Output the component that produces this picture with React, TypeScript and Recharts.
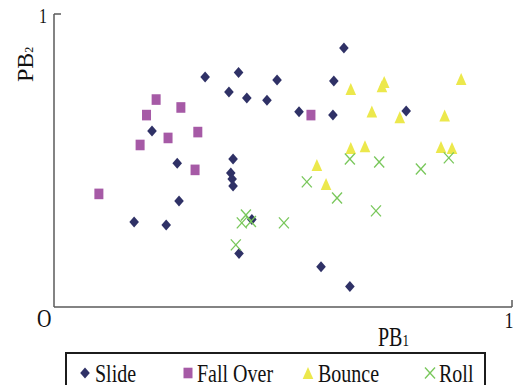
import React from 'react';
import { ScatterChart, Scatter, XAxis, YAxis, Legend } from 'recharts';

const slidePoints = [
  { x: 0.330, y: 0.785 }, { x: 0.403, y: 0.800 }, { x: 0.382, y: 0.734 }, { x: 0.421, y: 0.713 },
  { x: 0.465, y: 0.706 }, { x: 0.487, y: 0.775 }, { x: 0.633, y: 0.884 }, { x: 0.611, y: 0.771 },
  { x: 0.535, y: 0.666 }, { x: 0.609, y: 0.655 }, { x: 0.769, y: 0.669 }, { x: 0.214, y: 0.601 },
  { x: 0.269, y: 0.491 }, { x: 0.391, y: 0.505 }, { x: 0.386, y: 0.457 }, { x: 0.389, y: 0.437 },
  { x: 0.391, y: 0.413 }, { x: 0.273, y: 0.362 }, { x: 0.175, y: 0.290 }, { x: 0.245, y: 0.280 },
  { x: 0.432, y: 0.299 }, { x: 0.404, y: 0.183 }, { x: 0.583, y: 0.137 }, { x: 0.646, y: 0.070 },
];

const fallOverPoints = [
  { x: 0.098, y: 0.386 }, { x: 0.188, y: 0.553 }, { x: 0.223, y: 0.708 }, { x: 0.202, y: 0.655 },
  { x: 0.277, y: 0.681 }, { x: 0.249, y: 0.577 }, { x: 0.314, y: 0.597 }, { x: 0.308, y: 0.468 },
  { x: 0.561, y: 0.655 },
];

const bouncePoints = [
  { x: 0.648, y: 0.744 }, { x: 0.721, y: 0.768 }, { x: 0.716, y: 0.753 }, { x: 0.889, y: 0.778 },
  { x: 0.694, y: 0.667 }, { x: 0.755, y: 0.648 }, { x: 0.853, y: 0.654 }, { x: 0.648, y: 0.543 },
  { x: 0.679, y: 0.549 }, { x: 0.845, y: 0.546 }, { x: 0.869, y: 0.543 }, { x: 0.574, y: 0.485 },
  { x: 0.594, y: 0.420 },
];

const rollPoints = [
  { x: 0.646, y: 0.505 }, { x: 0.552, y: 0.427 }, { x: 0.618, y: 0.372 }, { x: 0.502, y: 0.287 },
  { x: 0.419, y: 0.314 }, { x: 0.410, y: 0.287 }, { x: 0.430, y: 0.292 }, { x: 0.397, y: 0.212 },
  { x: 0.710, y: 0.495 }, { x: 0.801, y: 0.471 }, { x: 0.862, y: 0.509 }, { x: 0.703, y: 0.328 },
];

const seriesNames = ['Slide', 'Fall Over', 'Bounce', 'Roll'];
const axisTicks = [0, 1];

const COLORS: Record<string, string> = {
  'Slide': '#2f3166',
  'Fall Over': '#a65aa6',
  'Bounce': '#ece84c',
  'Roll': '#78c75a',
};

const FONT = '"Liberation Serif", "Times New Roman", serif';

function drawMarker(name: string, cx: number, cy: number) {
  const c = COLORS[name];
  if (name === 'Slide') {
    return <path d={`M${cx},${cy - 5.5}L${cx + 4.8},${cy}L${cx},${cy + 5.5}L${cx - 4.8},${cy}Z`} fill={c} />;
  }
  if (name === 'Fall Over') {
    return <rect x={cx - 4.5} y={cy - 5.3} width={9} height={10.6} fill={c} />;
  }
  if (name === 'Bounce') {
    return <path d={`M${cx},${cy - 6}L${cx + 5.3},${cy + 6}L${cx - 5.3},${cy + 6}Z`} fill={c} />;
  }
  return (
    <g stroke={c} strokeWidth={1.3}>
      <line x1={cx - 5} y1={cy - 5.5} x2={cx + 5} y2={cy + 5.5} />
      <line x1={cx - 5} y1={cy + 5.5} x2={cx + 5} y2={cy - 5.5} />
    </g>
  );
}

const makeShape = (name: string) => (props: any) => {
  const { cx, cy } = props;
  if (cx == null || cy == null) return <g />;
  return drawMarker(name, cx, cy);
};

function SText({ x, y, size, anchor = 'start', sy = 1.3, children }: any) {
  return (
    <text
      transform={`translate(${x},${y}) scale(1,${sy})`}
      x={0}
      y={0}
      fontSize={size}
      fontFamily={FONT}
      fill="#111"
      textAnchor={anchor}
    >
      {children}
    </text>
  );
}

const AXIS_COLOR = '#5a5a5a';
const PLOT_LEFT = 54;
const PLOT_BOTTOM = 307;

const XTick = (props: any) => {
  const { x, payload } = props;
  const y = PLOT_BOTTOM;
  if (payload.value === 0) {
    return <SText x={x - 17} y={y + 20} size={20}>O</SText>;
  }
  return (
    <g>
      <line x1={x} y1={y} x2={x} y2={y - 7} stroke={AXIS_COLOR} strokeWidth={1.5} />
      <SText x={x - 3} y={y + 21} size={18} anchor="middle">1</SText>
    </g>
  );
};

const YTick = (props: any) => {
  const { y, payload } = props;
  const x = PLOT_LEFT;
  if (payload.value !== 1) return <g />;
  return (
    <g>
      <line x1={x} y1={y} x2={x + 7} y2={y} stroke={AXIS_COLOR} strokeWidth={1.5} />
      <SText x={x - 11} y={y + 9} size={16} anchor="middle">1</SText>
    </g>
  );
};

const XLabel = () => (
  <SText x={PLOT_LEFT + 324} y={PLOT_BOTTOM + 39} size={20} sy={1.35}>
    PB<tspan fontSize={13}>1</tspan>
  </SText>
);

const YLabel = () => (
  <text
    transform={`translate(${PLOT_LEFT - 21},82) rotate(-90)`}
    fontSize={24}
    fontFamily={FONT}
    fill="#111"
  >
    PB<tspan fontSize={12}>2</tspan>
  </text>
);

const legendMarkerX = [18, 121, 241, 363];
const legendTextX = [28, 130, 251, 372];

const LegendBox = () => (
  <div style={{ border: '2px solid #1c1c1c', width: 417, height: 45, boxSizing: 'content-box' }}>
    <svg width={417} height={45} style={{ display: 'block' }}>
      {seriesNames.map((name, i) => (
        <g key={name}>
          {drawMarker(name, legendMarkerX[i], 19)}
          <SText x={legendTextX[i]} y={28} size={20}>{name}</SText>
        </g>
      ))}
    </svg>
  </div>
);

export default function App() {
  return (
    <div style={{ position: 'absolute', left: 0, top: 0, width: 516, height: 385, overflow: 'hidden', background: '#fff' }}>
      <ScatterChart width={516} height={385} margin={{ top: 14, right: 4, bottom: 77, left: 53 }}>
        <XAxis
          type="number"
          dataKey="x"
          domain={[0, 1]}
          ticks={axisTicks}
          interval={0}
          height={1}
          tickSize={0}
          tickMargin={0}
          tickLine={false}
          tick={<XTick />}
          axisLine={{ stroke: AXIS_COLOR, strokeWidth: 1.5 }}
          label={<XLabel />}
        />
        <YAxis
          type="number"
          dataKey="y"
          domain={[0, 1]}
          ticks={axisTicks}
          interval={0}
          width={1}
          tickSize={0}
          tickMargin={0}
          tickLine={false}
          tick={<YTick />}
          axisLine={{ stroke: AXIS_COLOR, strokeWidth: 1.5 }}
          label={<YLabel />}
        />
        <Legend
          layout="horizontal"
          verticalAlign="middle"
          align="center"
          content={<LegendBox />}
          wrapperStyle={{ left: 65, top: 352, width: 421, height: 49 }}
        />
        <Scatter name="Slide" data={slidePoints} fill={COLORS['Slide']} shape={makeShape('Slide')} isAnimationActive={false} />
        <Scatter name="Fall Over" data={fallOverPoints} fill={COLORS['Fall Over']} shape={makeShape('Fall Over')} isAnimationActive={false} />
        <Scatter name="Bounce" data={bouncePoints} fill={COLORS['Bounce']} shape={makeShape('Bounce')} isAnimationActive={false} />
        <Scatter name="Roll" data={rollPoints} fill={COLORS['Roll']} shape={makeShape('Roll')} isAnimationActive={false} />
      </ScatterChart>
    </div>
  );
}
